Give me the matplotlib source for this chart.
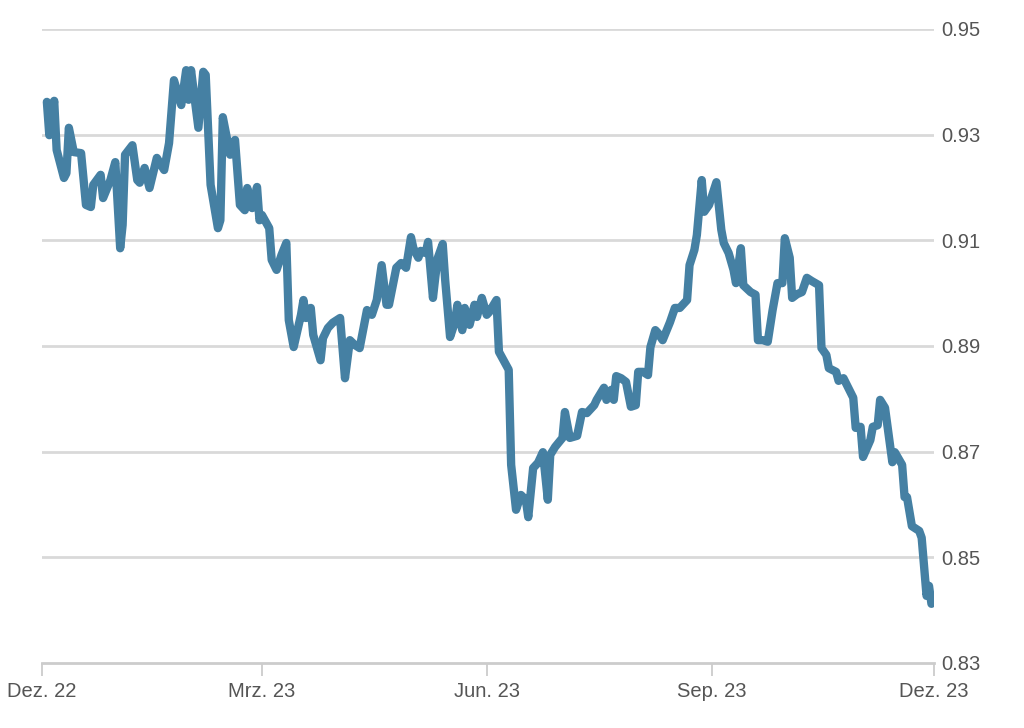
import matplotlib.pyplot as plt
import pandas as pd

# Kursverlauf Dez. 22 - Dez. 23
dates = [
    "2022-12-03", "2022-12-04", "2022-12-06", "2022-12-07", "2022-12-10", "2022-12-11",
    "2022-12-12", "2022-12-14", "2022-12-17", "2022-12-19", "2022-12-21", "2022-12-22",
    "2022-12-25", "2022-12-26", "2022-12-29", "2022-12-31", "2023-01-02", "2023-01-03",
    "2023-01-04", "2023-01-07", "2023-01-09", "2023-01-10", "2023-01-12", "2023-01-14",
    "2023-01-17", "2023-01-20", "2023-01-22", "2023-01-24", "2023-01-27", "2023-01-29",
    "2023-01-30", "2023-01-31", "2023-02-03", "2023-02-05", "2023-02-06", "2023-02-08",
    "2023-02-11", "2023-02-12", "2023-02-13", "2023-02-16", "2023-02-18", "2023-02-20",
    "2023-02-22", "2023-02-23", "2023-02-25", "2023-02-27", "2023-02-28", "2023-03-01",
    "2023-03-04", "2023-03-05", "2023-03-07", "2023-03-09", "2023-03-11", "2023-03-12",
    "2023-03-14", "2023-03-17", "2023-03-18", "2023-03-19", "2023-03-21", "2023-03-22",
    "2023-03-25", "2023-03-26", "2023-03-28", "2023-03-30", "2023-04-02", "2023-04-04",
    "2023-04-06", "2023-04-08", "2023-04-10", "2023-04-13", "2023-04-15", "2023-04-17",
    "2023-04-19", "2023-04-21", "2023-04-22", "2023-04-25", "2023-04-27", "2023-04-29",
    "2023-05-01", "2023-05-02", "2023-05-04", "2023-05-05", "2023-05-07", "2023-05-08",
    "2023-05-10", "2023-05-11", "2023-05-12", "2023-05-14", "2023-05-15", "2023-05-17",
    "2023-05-19", "2023-05-20", "2023-05-22", "2023-05-23", "2023-05-25", "2023-05-27",
    "2023-05-28", "2023-05-30", "2023-06-01", "2023-06-02", "2023-06-05", "2023-06-06",
    "2023-06-10", "2023-06-11", "2023-06-13", "2023-06-15", "2023-06-17", "2023-06-18",
    "2023-06-20", "2023-06-22", "2023-06-24", "2023-06-26", "2023-06-27", "2023-06-29",
    "2023-07-02", "2023-07-03", "2023-07-05", "2023-07-08", "2023-07-10", "2023-07-12",
    "2023-07-15", "2023-07-16", "2023-07-19", "2023-07-20", "2023-07-22", "2023-07-23",
    "2023-07-24", "2023-07-26", "2023-07-28", "2023-07-30", "2023-08-01", "2023-08-02",
    "2023-08-04", "2023-08-06", "2023-08-07", "2023-08-09", "2023-08-10", "2023-08-12",
    "2023-08-15", "2023-08-17", "2023-08-19", "2023-08-22", "2023-08-23", "2023-08-25",
    "2023-08-26", "2023-08-28", "2023-08-29", "2023-08-31", "2023-09-03", "2023-09-05",
    "2023-09-06", "2023-09-08", "2023-09-10", "2023-09-11", "2023-09-13", "2023-09-14",
    "2023-09-17", "2023-09-19", "2023-09-20", "2023-09-22", "2023-09-24", "2023-09-26",
    "2023-09-28", "2023-09-30", "2023-10-01", "2023-10-03", "2023-10-04", "2023-10-06",
    "2023-10-08", "2023-10-10", "2023-10-12", "2023-10-15", "2023-10-16", "2023-10-18",
    "2023-10-19", "2023-10-22", "2023-10-23", "2023-10-25", "2023-10-29", "2023-10-30",
    "2023-11-01", "2023-11-02", "2023-11-05", "2023-11-06", "2023-11-08", "2023-11-09",
    "2023-11-11", "2023-11-14", "2023-11-15", "2023-11-18", "2023-11-19", "2023-11-20",
    "2023-11-22", "2023-11-25", "2023-11-26", "2023-11-28", "2023-11-29", "2023-11-30",
]
values = [
    0.9362, 0.9299, 0.9364, 0.9271, 0.9218, 0.9227,
    0.9313, 0.9267, 0.9265, 0.9167, 0.9163, 0.9205,
    0.9224, 0.9180, 0.9214, 0.9248, 0.9085, 0.9129,
    0.9262, 0.9280, 0.9214, 0.9209, 0.9237, 0.9199,
    0.9256, 0.9233, 0.9284, 0.9403, 0.9356, 0.9422,
    0.9366, 0.9422, 0.9313, 0.9419, 0.9413, 0.9205,
    0.9123, 0.9138, 0.9333, 0.9262, 0.9290, 0.9167,
    0.9157, 0.9199, 0.9161, 0.9201, 0.9138, 0.9148,
    0.9123, 0.9063, 0.9044, 0.9072, 0.9095, 0.8949,
    0.8898, 0.8959, 0.8987, 0.8953, 0.8972, 0.8921,
    0.8873, 0.8915, 0.8934, 0.8944, 0.8953, 0.8839,
    0.8911, 0.8902, 0.8896, 0.8968, 0.8959, 0.8987,
    0.9053, 0.8978, 0.8978, 0.9048, 0.9057, 0.9048,
    0.9106, 0.9085, 0.9067, 0.9080, 0.9076, 0.9097,
    0.8991, 0.9032, 0.9067, 0.9093, 0.9025, 0.8917,
    0.8945, 0.8978, 0.8930, 0.8972, 0.8940, 0.8978,
    0.8955, 0.8991, 0.8959, 0.8964, 0.8987, 0.8889,
    0.8855, 0.8675, 0.8590, 0.8618, 0.8609, 0.8576,
    0.8669, 0.8679, 0.8699, 0.8609, 0.8694, 0.8709,
    0.8726, 0.8775, 0.8726, 0.8730, 0.8775, 0.8773,
    0.8788, 0.8798, 0.8821, 0.8798, 0.8817, 0.8798,
    0.8843, 0.8839, 0.8832, 0.8785, 0.8788, 0.8851,
    0.8851, 0.8845, 0.8898, 0.8930, 0.8925, 0.8911,
    0.8945, 0.8972, 0.8972, 0.8987, 0.9053, 0.9082,
    0.9110, 0.9214, 0.9154, 0.9167, 0.9210, 0.9120,
    0.9095, 0.9076, 0.9044, 0.9019, 0.9085, 0.9015,
    0.9002, 0.8997, 0.8911, 0.8911, 0.8908, 0.8968,
    0.9019, 0.9019, 0.9104, 0.9067, 0.8991, 0.8998,
    0.9002, 0.9029, 0.9023, 0.9015, 0.8896, 0.8883,
    0.8858, 0.8851, 0.8834, 0.8839, 0.8802, 0.8745,
    0.8747, 0.8690, 0.8722, 0.8747, 0.8750, 0.8798,
    0.8783, 0.8680, 0.8699, 0.8675, 0.8614, 0.8614,
    0.8559, 0.8550, 0.8537, 0.8427, 0.8446, 0.8412,
]

tick_dates = ["2022-12-01", "2023-03-01", "2023-06-01", "2023-09-01", "2023-12-01"]
tick_labels = ["Dez. 22", "Mrz. 23", "Jun. 23", "Sep. 23", "Dez. 23"]
y_ticks = [0.83, 0.85, 0.87, 0.89, 0.91, 0.93, 0.95]

plt.rcParams['font.family'] = ['Liberation Sans Narrow', 'Liberation Sans', 'DejaVu Sans']

x = pd.to_datetime(dates)

fig = plt.figure(figsize=(10.24, 7.28), dpi=100)
ax = fig.add_axes([0.041, 0.0893, 0.871, 0.8709])

ax.plot(x, values, color='#4580a3', lw=6, solid_joinstyle='round', solid_capstyle='round', zorder=3)

ax.set_xlim(pd.Timestamp("2022-12-01"), pd.Timestamp("2023-12-01"))
ax.set_ylim(0.83, 0.95)

# Gitterlinien
for yv in y_ticks[1:]:
    ax.axhline(yv, color='#d9d9d9', lw=2, zorder=1)

ax.yaxis.tick_right()
ax.set_yticks(y_ticks)
ax.set_yticklabels([f"{v:.2f}" for v in y_ticks])
ax.tick_params(axis='y', length=0, pad=5, labelsize=14.5, labelcolor='#555555')

ax.set_xticks(pd.to_datetime(tick_dates))
ax.set_xticklabels(tick_labels)
ax.tick_params(axis='x', length=9, width=1.3, color='#cccccc', pad=5,
               labelsize=14.5, labelcolor='#555555')

for s in ['top', 'left', 'right']:
    ax.spines[s].set_visible(False)
ax.spines['bottom'].set_color('#cccccc')
ax.spines['bottom'].set_linewidth(2)

plt.savefig('out.png', dpi=100)
plt.close()
